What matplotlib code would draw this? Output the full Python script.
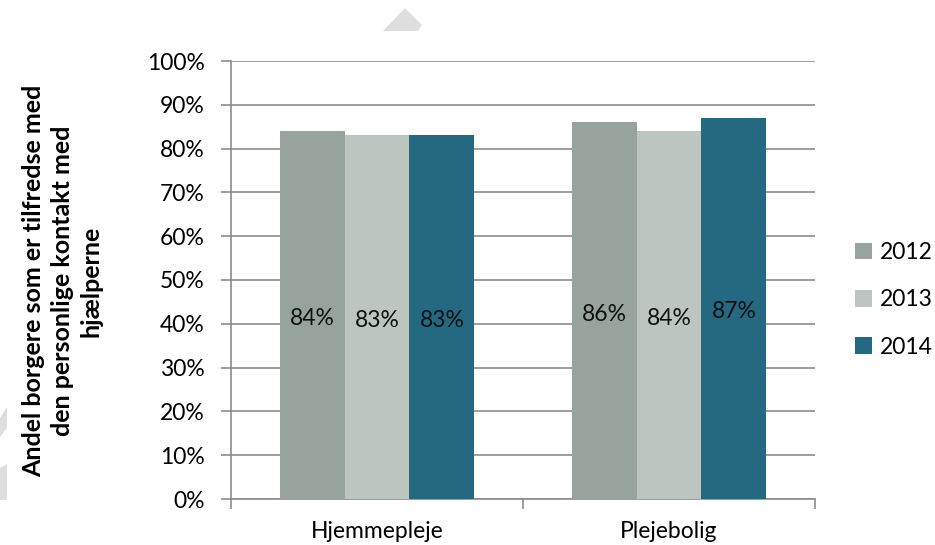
"""Andel borgere tilfredse med den personlige kontakt - grupperede søjler"""

import matplotlib.pyplot as plt
from matplotlib.patches import Polygon
import numpy as np

plt.rcParams['font.family'] = ['Lato', 'DejaVu Sans']

categories = ["Hjemmepleje", "Plejebolig"]
years = ["2012", "2013", "2014"]
values = {
    "2012": [84, 86],
    "2013": [83, 84],
    "2014": [83, 87],
}
colors = {"2012": "#96A49D", "2013": "#BCC5C0", "2014": "#256882"}
y_ticks = [0, 10, 20, 30, 40, 50, 60, 70, 80, 90, 100]
ylabel = "Andel borgere som er tilfredse med\nden personlige kontakt med\nhjælperne"

W, H = 935, 545
FS = 16.5
fig = plt.figure(figsize=(W / 100, H / 100), dpi=100)
ax = fig.add_axes([231 / W, 1 - 499 / H, (815 - 231) / W, (499 - 61) / H])


def px(points):
    # pixel coordinates (from top left) -> figure fraction
    return [(a / W, 1 - b / H) for a, b in points]


# faint grey watermark shapes behind the chart
wm = "#DEDEDE"
for shape in ([(405, 8), (383, 31), (418, 31), (422, 25)],
              [(0, 418), (7, 407), (7, 428), (0, 437)],
              [(0, 468), (7, 464), (7, 500), (0, 500)]):
    fig.patches.append(Polygon(px(shape), closed=True, transform=fig.transFigure,
                               facecolor=wm, edgecolor="none", zorder=0))

x = np.arange(len(categories))
width = 0.2226
for i, yr in enumerate(years):
    pos = x + (i - 1) * width
    bars = ax.bar(pos, values[yr], width, color=colors[yr], label=yr, zorder=3)
    for b, v in zip(bars, values[yr]):
        ax.text(b.get_x() + b.get_width() / 2, v / 2 - 0.8, f"{v}%",
                ha="center", va="center", fontsize=FS, color="#111111", zorder=4)

ax.set_xlim(-0.5, 1.5)
ax.set_ylim(0, 100)
ax.set_yticks(y_ticks)
ax.set_yticklabels([f"{t}%" for t in y_ticks], fontsize=FS)
ax.yaxis.grid(True, color="#8C8C8C", linewidth=1.2, zorder=0)
ax.set_axisbelow(True)

# category ticks sit on the group boundaries, labels in the middle
ax.set_xticks([-0.5, 0.5, 1.5])
ax.set_xticklabels([])
ax.set_xticks(x, minor=True)
ax.set_xticklabels(categories, minor=True, fontsize=FS)
ax.tick_params(axis="x", which="minor", length=0, pad=16)
ax.tick_params(axis="x", which="major", length=7, width=1.2, color="#8C8C8C")
ax.tick_params(axis="y", length=7, width=1.2, color="#8C8C8C", pad=12)

for side in ["top", "right"]:
    ax.spines[side].set_visible(False)
for side in ["left", "bottom"]:
    ax.spines[side].set_color("#8C8C8C")
    ax.spines[side].set_linewidth(1.2)

fig.text(62 / W, 1 - 281 / H, ylabel, rotation=90, ha="center", va="center",
         multialignment="center", fontsize=18, fontweight="bold", linespacing=1.3)

fig.legend(loc="upper left", bbox_to_anchor=(855 / W, 1 - 242 / H),
           frameon=False, fontsize=FS, handlelength=0.75, handleheight=0.75,
           handletextpad=0.35, labelspacing=1.15, borderaxespad=0, borderpad=0)

fig.savefig("out.png", dpi=100)
